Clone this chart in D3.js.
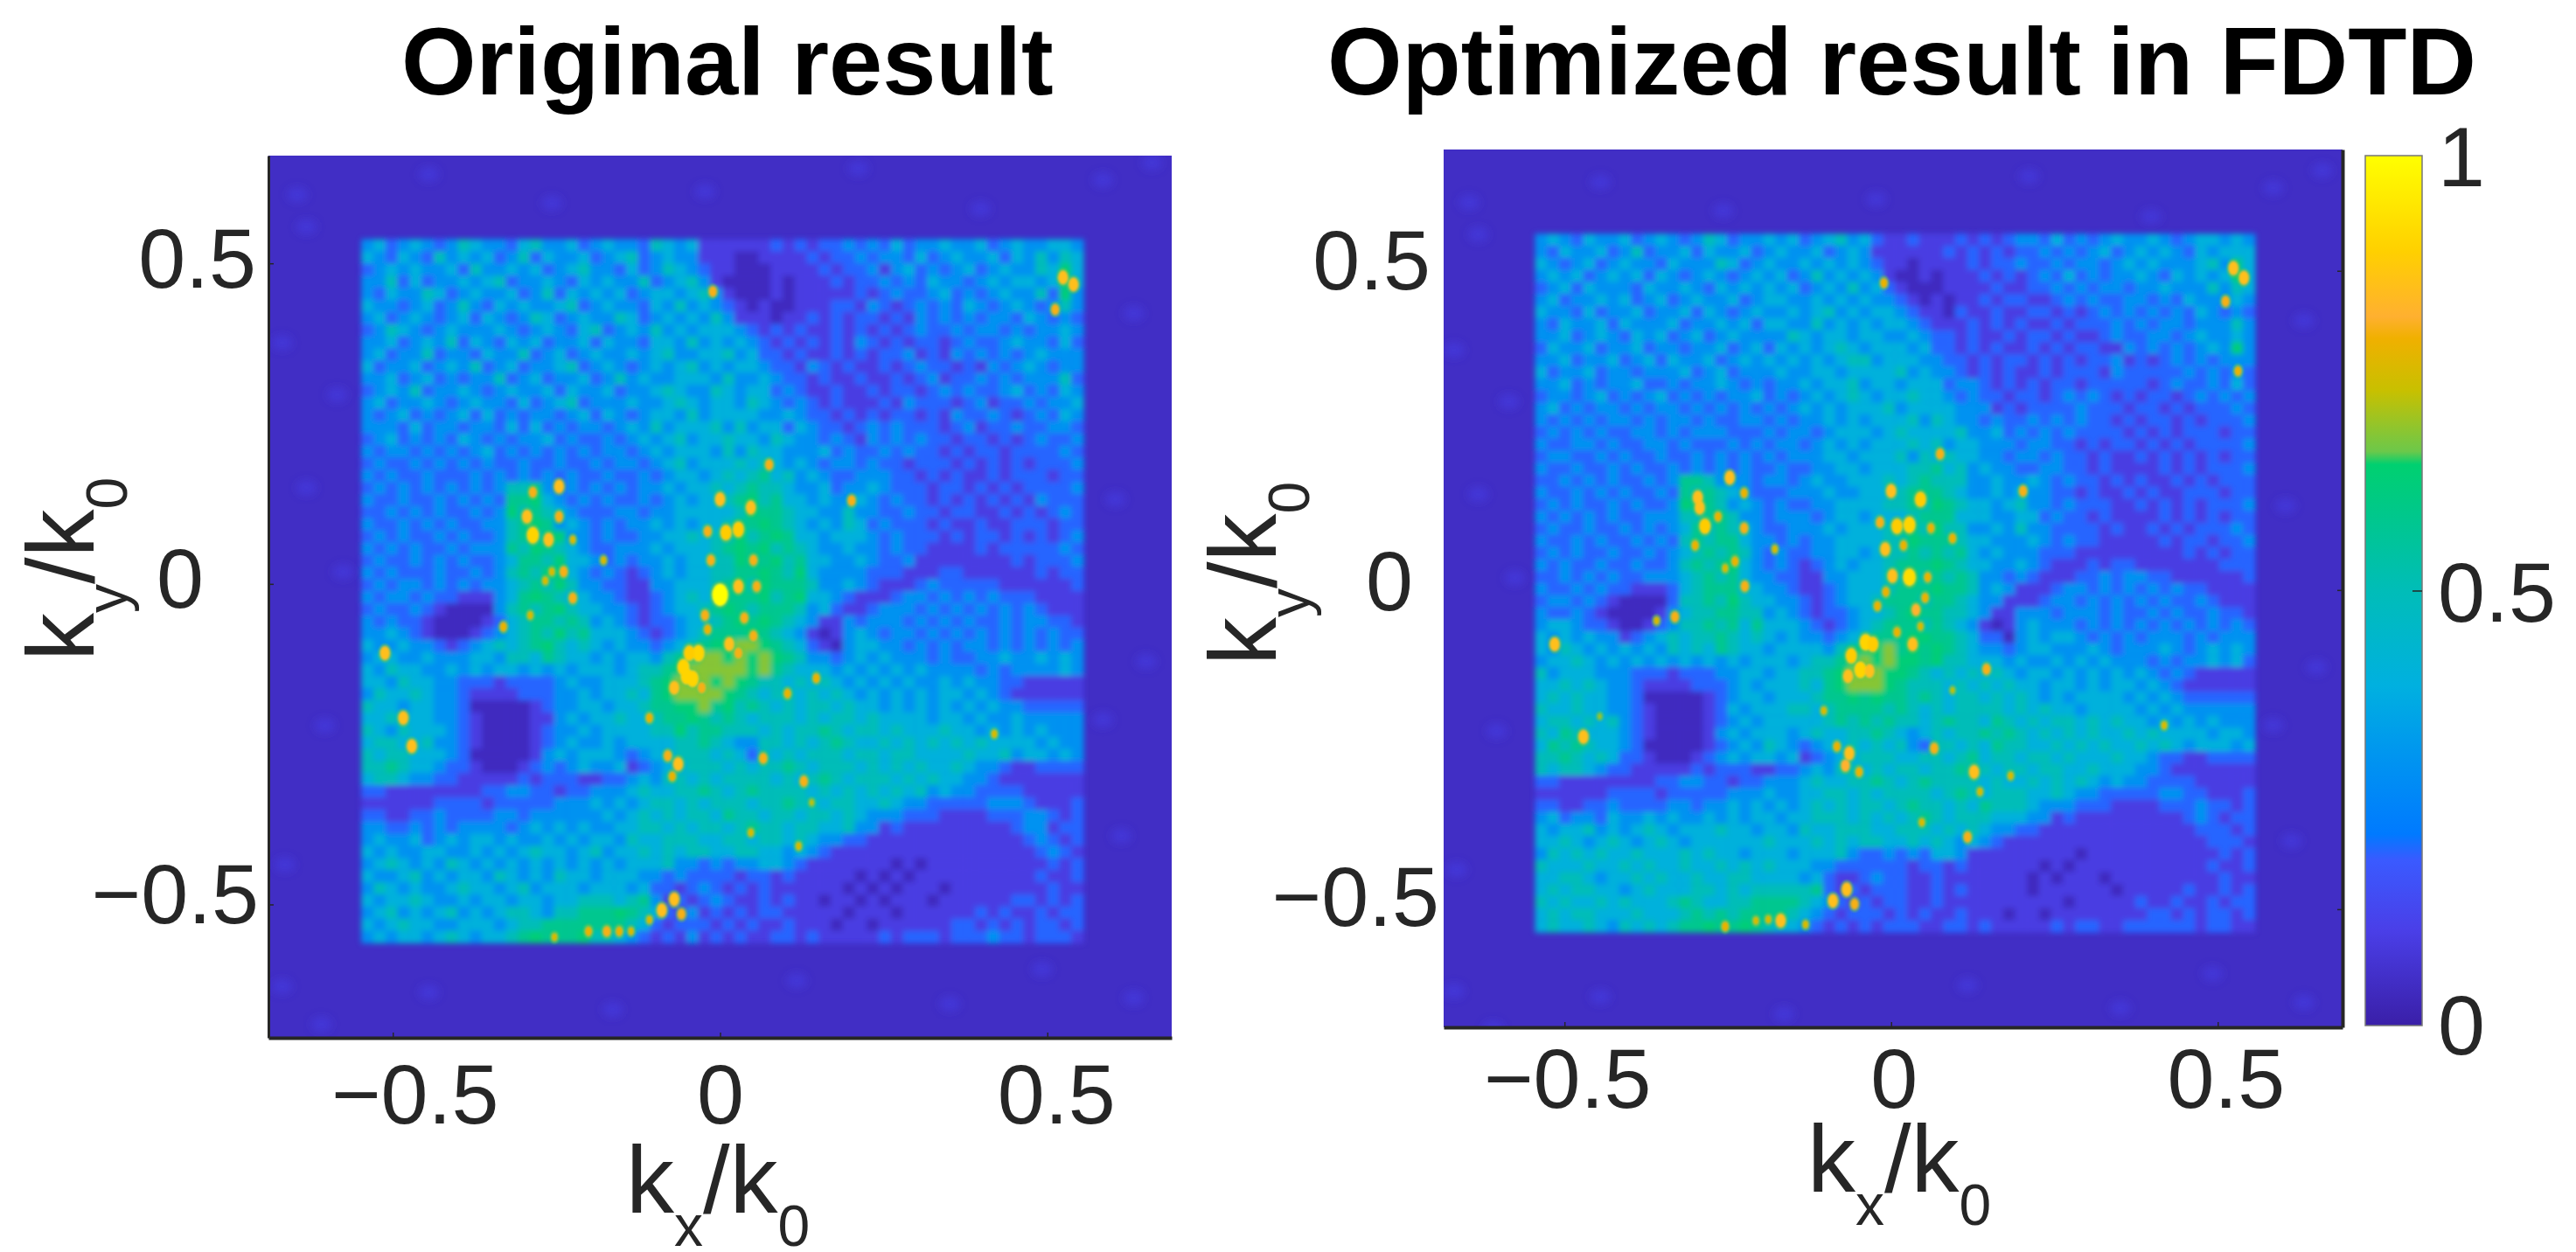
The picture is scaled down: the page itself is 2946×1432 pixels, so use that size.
<!DOCTYPE html>
<html>
<head>
<meta charset="utf-8">
<script src="https://cdnjs.cloudflare.com/ajax/libs/d3/7.8.5/d3.min.js"></script>
<style>
  body { margin: 0; background: #fff; }
  text { font-family: "Liberation Sans", Arial, sans-serif; fill: #262626; }
</style>
</head>
<body>
<script>
// color bar stops
const colorStops = [0, 0.11, 0.19, 0.22, 0.32, 0.39, 0.5, 0.59, 0.645, 0.66, 0.73, 0.79, 0.815, 0.89, 1];
const colorValues = ["#3a1fa8", "#4a3fe8", "#3a5aff", "#007aff", "#0098ee", "#00b0e0", "#00bdb8", "#00c88a",
  "#00d070", "#6cc84a", "#c8c000", "#f0b000", "#ffb030", "#ffd000", "#ffff00"];

const xTicks = [-0.5, 0, 0.5];
const yTicks = [0.5, 0, -0.5];
const barTicks = [1, 0.5, 0];
const frameValue = 0.05;

// value of each digit used in the rows below
const digitValues = [0.04, 0.1, 0.2, 0.3, 0.4, 0.5, 0.58, 0.63, 0.68];

// inner square, one digit per cell
const leftRows = [
  "3423432354 3324533423 4332543411 1111212122 3232423343 3423433443",
  "4324325343 4235243342 3452343311 1001111212 2323324234 3342435354",
  "2343433425 3343423453 3242354321 1000111121 2231342323 4234335474",
  "3352423343 4523343243 4335234531 0000101112 1223232433 2343443464",
  "3243354234 3342352434 3423443453 1000101111 1212322342 3234335273",
  "4332342353 2434334523 4332435343 2101001112 2132123232 4323432353",
  "3423432342 4323542343 3542343435 3111011212 1221213232 3233243232",
  "2354323433 3432343245 2343534344 4321212112 1212123223 2332323343",
  "3342343524 3243423342 4332443534 3432121212 1321212212 3223433242",
  "3423352332 4335234234 3343453344 5342212112 1212231213 2323234333",
  "4233423435 2342334523 4323434534 3443221321 2112123221 2132343233",
  "3342342323 3523423342 3534334443 5334322121 1211212312 2323233352",
  "2343523343 2343342433 4233454335 4344232112 1121221232 3223423243",
  "3423343234 3324234523 3343345434 4354323212 1112132221 2312232334",
  "3234232342 4232332342 4323443534 4443343221 2121221213 2232123243",
  "3332423323 3242423233 2343534445 3534424322 1232322212 3122322332",
  "2342323243 2323342322 3234345344 5443543323 2132323221 2212123223",
  "3233232323 4232323232 3323434443 5354433342 3223232212 1221222232",
  "2322323232 3223223223 2332345344 4545434323 3232212221 2121212223",
  "3232232223 2323232322 3223234434 5456453432 2333221212 1121222122",
  "2323232323 2355632323 2323343445 4565543342 3343222122 1212122223",
  "3223223232 3266743232 3223234344 5675644343 3432322121 2121213222",
  "2232323223 2375654322 2332334444 4576654433 5332232212 2112121232",
  "3223232322 3356763432 3233434344 5667654343 5423222121 1211222122",
  "2323223232 2356567332 3223344545 5756764434 4432322212 1221212123",
  "3232322323 3365765432 2333434445 6767565433 4332322111 1212222232",
  "2322323232 2346657443 2323343445 5766756443 3432231111 1111212223",
  "3232223223 2356576432 3212343445 5667657433 3322211122 1111112122",
  "2323323232 3345657533 2211334445 6757666533 4321112322 2221111112",
  "3233232211 1346765443 3211234545 6667567443 2111233232 3232221111",
  "2322321000 0356567544 3321234456 7656665342 1123332323 2323232111",
  "3232210000 1245665653 4321223445 6767654311 3233323232 3223233221",
  "3343210001 2345657564 4432123456 6676543101 3432332323 2323232322",
  "4334332123 4545675454 3433234567 7887654210 3443323232 3323232323",
  "3443343334 4355465443 4344356788 7878765332 3434333232 2334334343",
  "4354433434 3443434344 4345567888 8878654443 4343434333 3232333343",
  "4435443322 2122223433 4445678887 8765545454 3434343343 4332211111",
  "3544543321 1112223343 4454678888 7654554545 4343434344 3432111111",
  "5443443320 0000123344 3445667786 7565454554 5443434343 4343322222",
  "4454443321 0000113434 4544566765 6545554545 5454444344 3433433333",
  "5435444321 0000123343 4444557566 5554545565 4554544454 4343434333",
  "4554453321 0000123433 4344445565 4335545456 5445454545 4544443433",
  "5455444320 0000134344 4323445554 5425454555 4554554444 5445344343",
  "5565443221 0001232343 3412344555 4545565455 5454545445 4332112222",
  "4554332211 1112122211 2234355454 5555454565 4555454544 3321111111",
  "2211111111 2233221223 3345445565 4565555454 5454545343 3222211111",
  "1111112222 1222223334 3434554545 5545565545 5445433222 2233321112",
  "2211223222 2332333333 4345454554 6554554554 5433322211 1122233212",
  "3322323233 3323434343 3445545455 4565545544 5331211111 1111233122",
  "3433423434 4343343434 4354455544 5545545433 2211111111 1111123212",
  "4343344334 3434544345 3445454554 4554434321 1111111111 1111112321",
  "3454343543 4343434343 4344453323 2334432111 1111010111 1111111212",
  "4334534344 3543435443 4443323222 2122121111 1010101111 1111112112",
  "3543433454 4345344434 4434221232 1212111111 0101011101 1111111211",
  "4344543343 4434434455 5456312123 2112121101 1010111011 1111221212",
  "3453434534 3455435566 6765421312 1212211111 0111011111 1212112122",
  "4345443344 4345566666 6654212221 2121121110 1101111112 2121212212",
  "3434434543 4456766675 5432121312 1211221211 1112122212 2232212221"
];

const rightRows = [
  "3432433423 4323542334 3423453421 1211121212 3324232343 3432344343",
  "3243342352 3342433423 4334234311 1111212121 2232323423 4343243444",
  "4323423433 2433354234 3343434321 1011112122 3223233234 3433345364",
  "3434234342 4323432343 4235343431 0010111212 1232423233 4324343474",
  "2342433324 3343243434 3423435342 1000111121 1223232332 3343335354",
  "3423343423 4234334234 4334343433 2101011212 2112323223 3232433343",
  "4332423342 3342432343 3434534344 3211021121 1221212323 2323243232",
  "3243342433 3423343424 4335343434 4321112121 2112122232 3233233353",
  "3342343243 4234234333 3543443443 3432212112 1221211232 2332343343",
  "2433423342 3323342342 4343454344 4342212121 1212122113 2323234373",
  "3342334234 2433423434 3434345534 4433221212 2121212231 2123232333",
  "4233423323 3342342333 4334434444 5343321212 1121222132 2222323232",
  "3342323342 2323343232 3343445344 3444233212 1212212222 2123223242",
  "2332342323 4232323342 3234345434 4544323221 2212323212 1221232323",
  "3423233232 3323232323 2343434445 3444433312 1222232221 2212122232",
  "3232323323 2332322332 3233434344 4535433232 2323232212 1221212223",
  "2323232233 2323332223 2332344434 5444453342 3232322221 2121222122",
  "3223323223 3232223232 3323434344 4545344333 2332212122 1212122223",
  "2332232322 3223232323 2333443444 5354544332 3323221211 2121212122",
  "3223223232 2323232322 3223344344 4556453433 2233221211 1121212223",
  "2232323223 2366533323 3234334445 4565553343 3432322121 2112121222",
  "3223232322 3265654322 2333433444 5666543343 4332212112 1211222122",
  "2323223232 2376653432 3223344445 5657654434 5332322211 2121212223",
  "3232323223 3355665332 3332344344 4566644433 4423221211 1121212122",
  "2322322323 2346565432 2333434445 6657553343 5332222121 1212122232",
  "3223232232 3256566433 2323344445 5766654433 3432322111 1121221223",
  "2323223223 2345656532 3223344345 5656564343 3322211111 1111212122",
  "3232232232 2356567432 3212343445 6667654433 4321112122 1111111222",
  "2232323223 3345656433 2211334445 5756565332 3211122323 3221111112",
  "3223232211 1245666443 3211234445 6667665343 1112332323 2323221111",
  "2332321000 0255657544 3321234456 6656654331 1123323232 3232232111",
  "3223210000 1345566553 4321223445 6766554311 3332333232 2323223221",
  "3443221001 2355656464 4432123456 6656543101 3433323232 3232323232",
  "4343433123 4545565454 3433234566 6776654220 3434432323 2333232333",
  "4354343434 3545465443 4444356778 6767654332 3443334323 3343234343",
  "3445434343 4343434344 4345567878 7767554443 4334343433 3232334342",
  "5344433322 2122233443 4455678887 7654545454 3443434343 4323211111",
  "4454543321 1112223434 4454678887 6555454545 4434434344 3432111111",
  "4545443320 0000123443 4445667676 6565455454 5434344443 4343222222",
  "5445443321 0000124344 4554566665 6545455554 5454434444 3434333333",
  "4554545321 0000123434 4444565656 5545655465 4545545454 4343434333",
  "5465444321 0000134344 4345445565 4345455656 5454545445 4544443443",
  "4656544320 0000123435 4323445454 5325545465 5445454544 5454344434",
  "5565454221 0001234344 3412344555 4455456455 4554544454 4322112222",
  "5455432211 1112122211 2234355454 5545565545 5455445444 3321111111",
  "2211111111 2233221223 3345445565 4565555454 4545454343 3222211111",
  "1111112222 1222223334 3344554545 5554565455 5445433222 2233221112",
  "2211223222 2332334343 4345454554 5655454655 5433322211 1122232212",
  "3423324334 3433434344 3445554545 4565455544 4331211111 1111232122",
  "4344534345 4344454434 4354455544 5554545433 2211111111 1111122212",
  "4454345434 5434444445 4445454554 4545434321 1111111111 1111112221",
  "3545454454 4454544344 4344453223 2324431111 1111101111 1111111212",
  "5444544545 4454454545 4443322222 2122121111 1101011111 1111112112",
  "4455434454 5445445544 4434211232 2112111111 1010111011 1111111211",
  "4545544345 4445545455 5556212122 2112121111 1011111101 1111211212",
  "5454454544 4565445566 6654321212 2112111111 1111011111 2112112122",
  "4545544454 4456565666 6543212221 2121121110 1101111111 1221212212",
  "4544543545 4566766765 4432121212 2211221211 1112122112 2222212211"
];

// bright spots [kx, ky, value]
const leftSpots = [
  [.524,.478,.85],[.540,.467,.85],[.512,.428,.8],[-.011,.456,.8],[-.512,-.108,.85],[-.484,-.209,.85],[-.471,-.253,.85],
  [.075,.186,.8],[.201,.130,.8],
  [-.286,.143,.8],[-.246,.152,.85],[-.295,.105,.85],[-.286,.076,.9],[-.246,.105,.8],[-.262,.069,.85],[-.225,.069,.75],
  [-.225,-.022,.8],[-.257,.019,.75],[-.178,.037,.75],[-.267,.005,.75],[-.239,.019,.8],
  [0,.132,.85],[.047,.119,.85],[.009,.080,.88],[.028,.085,.88],[-.019,.082,.8],[-.014,.037,.8],[.051,.037,.8],
  [0,-.017,1],[.028,-.004,.85],[.056,-.004,.8],[-.023,-.049,.8],[.037,-.053,.8],[-.019,-.071,.78],[.051,-.081,.8],
  [.014,-.094,.85],[-.033,-.108,.9],[-.047,-.108,.88],[.028,-.108,.8],
  [-.056,-.130,.9],[-.042,-.148,.9],[-.070,-.162,.85],[-.051,-.144,.9],[-.028,-.162,.8],[-.108,-.209,.78],
  [-.331,-.067,.78],[-.290,-.049,.75],[-.080,-.268,.8],[-.064,-.281,.85],[-.073,-.300,.78],[.066,-.272,.8],
  [.128,-.308,.8],[.147,-.147,.78],[.103,-.171,.78],[.047,-.388,.75],[.120,-.409,.75],[.419,-.234,.75],[.140,-.341,.72],
  [-.070,-.492,.85],[-.089,-.509,.85],[-.059,-.515,.8],[-.201,-.542,.78],[-.173,-.542,.8],[-.154,-.542,.78],
  [-.136,-.542,.75],[-.253,-.551,.75],[-.108,-.524,.75]
];

const rightSpots = [
  [.524,.504,.85],[.540,.489,.85],[.512,.452,.8],[-.011,.481,.78],[-.515,-.085,.85],[-.471,-.230,.85],[-.446,-.198,.7],
  [.075,.213,.8],[.202,.155,.8],
  [-.296,.145,.85],[-.247,.176,.85],[-.293,.129,.85],[-.285,.100,.88],[-.225,.152,.78],[-.265,.115,.78],[-.225,.097,.8],
  [-.300,.070,.78],[-.224,.006,.8],[-.254,.034,.75],[-.178,.064,.75],[-.239,.045,.78],
  [0,.155,.85],[.045,.142,.88],[.009,.100,.88],[.028,.102,.9],[-.017,.106,.8],[-.009,.064,.85],[.019,.070,.78],
  [.094,.081,.78],[.061,.097,.78],[.002,.022,.85],[.028,.020,.92],[.056,.020,.78],[-.008,-.003,.78],[-.021,-.025,.78],
  [.038,-.031,.82],[.052,-.012,.78],[.009,-.066,.78],[.033,-.085,.85],[.045,-.057,.75],
  [-.039,-.082,.9],[-.028,-.085,.88],[-.061,-.103,.88],[-.047,-.125,.9],[-.066,-.135,.85],[-.033,-.127,.85],
  [-.331,-.042,.8],[-.359,-.048,.75],[-.103,-.189,.75],[-.083,-.245,.78],[-.064,-.256,.85],[-.070,-.275,.82],
  [-.049,-.285,.78],[.066,-.248,.8],[.127,-.285,.85],[.183,-.291,.75],[.146,-.124,.8],[.094,-.157,.72],
  [.047,-.364,.75],[.117,-.387,.8],[.418,-.212,.75],[.531,.343,.78],[.136,-.316,.75],
  [-.068,-.469,.85],[-.089,-.487,.85],[-.056,-.492,.8],[-.169,-.518,.85],[-.207,-.518,.75],[-.188,-.516,.75],
  [-.254,-.527,.78],[-.131,-.524,.75]
];

// faint blotches in the dark frame [kx, ky]
const frameSpecks = [
  [-.646,.607],[-.576,.019],[-.669,-.628],[.585,.630],[.660,.657],[-.609,-.687],[-.669,.376],[-.632,.150],
  [-.604,-.221],[-.665,-.438],[-.445,.639],[-.257,.594],[-.023,.612],[.211,.648],[.398,.585],[.632,.422],
  [.604,.132],[.651,-.121],[.613,-.393],[.632,-.646],[-.445,-.637],[-.164,-.664],[.117,-.619],[.351,-.655],
  [.492,-.601],[-.632,.557],[-.585,.295],[.585,-.212]
];

const color = d3.scaleLinear().domain(colorStops).range(colorValues).clamp(true);
const tickText = d => d3.format(".1f")(d).replace("-", "\u2212").replace(/^0\.0$/, "0");

const svg = d3.select("body").append("svg").attr("width", 2946).attr("height", 1432);
const defs = svg.append("defs");

const blur = (id, dev) => defs.append("filter").attr("id", id)
  .attr("filterUnits", "userSpaceOnUse").attr("x", 0).attr("y", 0).attr("width", 2946).attr("height", 1432)
  .append("feGaussianBlur").attr("stdDeviation", dev);
blur("soft", 3.2);
blur("spotSoft", 1.2);
blur("speckSoft", 5);

function drawPanel(p) {
  const x = d3.scaleLinear().domain(p.xDomain).range(p.xRange);
  const y = d3.scaleLinear().domain(p.yDomain).range(p.yRange);
  const cells = p.rows.map(r => r.replace(/ /g, "").split("").map(Number));
  const col = d3.scaleBand().domain(d3.range(d3.max(cells, r => r.length))).range([x(p.inner[0]), x(p.inner[1])]);
  const row = d3.scaleBand().domain(d3.range(cells.length)).range([y(p.inner[2]), y(p.inner[3])]);

  defs.append("clipPath").attr("id", p.id + "Clip").append("rect")
    .attr("x", p.xRange[0]).attr("y", p.yRange[0])
    .attr("width", p.xRange[1] - p.xRange[0]).attr("height", p.yRange[1] - p.yRange[0]);

  const g = svg.append("g").attr("clip-path", `url(#${p.id}Clip)`);
  g.append("rect")
    .attr("x", p.xRange[0]).attr("y", p.yRange[0])
    .attr("width", p.xRange[1] - p.xRange[0]).attr("height", p.yRange[1] - p.yRange[0])
    .attr("fill", color(frameValue));

  g.append("g").attr("filter", "url(#speckSoft)")
    .selectAll("ellipse").data(frameSpecks).join("ellipse")
    .attr("cx", d => x(d[0])).attr("cy", d => y(d[1])).attr("rx", 12).attr("ry", 9)
    .attr("fill", color(0.12)).attr("opacity", 0.45);

  const flat = cells.flatMap((r, j) => r.map((v, i) => ({ i, j, v })));
  g.append("g").attr("filter", "url(#soft)")
    .selectAll("rect").data(flat).join("rect")
    .attr("x", d => col(d.i)).attr("y", d => row(d.j))
    .attr("width", col.bandwidth() + 0.5).attr("height", row.bandwidth() + 0.5)
    .attr("fill", d => color(digitValues[d.v]));

  // spot size follows its value
  const spotR = d3.scaleLinear().domain([0.7, 1]).range([2, 9]);
  const spots = g.append("g").attr("filter", "url(#spotSoft)");
  spots.selectAll(".halo").data(p.spots).join("ellipse").attr("class", "halo")
    .attr("cx", d => x(d[0])).attr("cy", d => y(d[1]))
    .attr("rx", d => spotR(d[2]) + 2.5).attr("ry", d => spotR(d[2]) * 1.4 + 3)
    .attr("fill", color(0.66)).attr("opacity", 0.6);
  spots.selectAll(".spot").data(p.spots).join("ellipse").attr("class", "spot")
    .attr("cx", d => x(d[0])).attr("cy", d => y(d[1]))
    .attr("rx", d => spotR(d[2])).attr("ry", d => spotR(d[2]) * 1.4)
    .attr("fill", d => color(d[2]));

  // axes
  const xAxis = svg.append("g").attr("transform", `translate(0,${p.yRange[1]})`)
    .call(d3.axisBottom(x).tickValues(xTicks).tickSizeInner(-6).tickSizeOuter(0).tickFormat(tickText));
  xAxis.select(".domain").attr("stroke", "#262626").attr("stroke-width", 4);
  xAxis.selectAll("line").attr("stroke", "#262626").attr("stroke-width", 1.5);
  xAxis.selectAll("text").attr("font-size", p.tickFont)
    .attr("dy", 0).attr("y", p.xLabelBase - p.yRange[1])
    .attr("dx", (d, i) => p.xLabelShift[i]);

  const yAxisSide = p.axisRight ? d3.axisRight(y) : d3.axisLeft(y);
  const yAxis = svg.append("g").attr("transform", `translate(${p.axisRight ? p.xRange[1] : p.xRange[0]},0)`)
    .call(yAxisSide.tickValues(yTicks).tickSizeInner(-6).tickSizeOuter(0).tickFormat(""));
  yAxis.select(".domain").attr("stroke", "#262626").attr("stroke-width", p.axisRight ? 4 : 3);
  yAxis.selectAll("line").attr("stroke", "#262626").attr("stroke-width", 1.5);

  svg.append("g").selectAll("text").data(yTicks).join("text")
    .attr("font-size", p.tickFont).attr("text-anchor", "end")
    .attr("x", (d, i) => p.yLabelRight[i]).attr("y", (d, i) => p.yLabelBase[i])
    .text(tickText);

  // axis titles
  const xt = svg.append("text").attr("font-size", 110).attr("x", p.xTitle[0]).attr("y", p.xTitle[1]);
  xt.append("tspan").text("k");
  xt.append("tspan").text("x").attr("font-size", 66).attr("dy", 38);
  xt.append("tspan").text("/k").attr("dy", -38);
  xt.append("tspan").text("0").attr("font-size", 66).attr("dy", 38);

  const yt = svg.append("text").attr("font-size", 110)
    .attr("transform", `translate(${p.yTitle[0]},${p.yTitle[1]}) rotate(-90)`);
  yt.append("tspan").text("k");
  yt.append("tspan").text("y").attr("font-size", 66).attr("dy", 38);
  yt.append("tspan").text("/k").attr("dy", -38);
  yt.append("tspan").text("0").attr("font-size", 66).attr("dy", 38);

  svg.append("text").attr("font-size", 110).attr("font-weight", "bold").style("fill", "#000")
    .attr("x", p.titleX).attr("y", 108).text(p.title);
}

drawPanel({
  id: "left", title: "Original result", titleX: 459, rows: leftRows, spots: leftSpots,
  xDomain: [-0.69, 0.69], xRange: [307, 1340], yDomain: [0.668, -0.708], yRange: [178, 1187],
  inner: [-0.548, 0.555, 0.5376, -0.56], axisRight: false, tickFont: 97,
  xLabelBase: 1285, xLabelShift: [25, 0, 10],
  yLabelRight: [293, 233, 296], yLabelBase: [329, 695, 1056],
  xTitle: [716, 1387], yTitle: [107, 756]
});

drawPanel({
  id: "right", title: "Optimized result in FDTD", titleX: 1518, rows: rightRows, spots: rightSpots,
  xDomain: [-0.685, 0.691], xRange: [1651, 2679], yDomain: [0.69, -0.685], yRange: [171, 1175],
  inner: [-0.545, 0.557, 0.558, -0.536], axisRight: true, tickFont: 97,
  xLabelBase: 1267, xLabelShift: [3, 3, 9],
  yLabelRight: [1636, 1616, 1646], yLabelBase: [331, 698, 1059],
  xTitle: [2067, 1363], yTitle: [1459, 761]
});

// colour bar
const barScale = d3.scaleLinear().domain([0, 1]).range([1173, 178]);
const grad = defs.append("linearGradient").attr("id", "barGrad").attr("x1", 0).attr("x2", 0).attr("y1", 1).attr("y2", 0);
grad.selectAll("stop").data(colorStops).join("stop")
  .attr("offset", d => d).attr("stop-color", d => color(d));
svg.append("rect").attr("x", 2705).attr("width", 65)
  .attr("y", barScale(1)).attr("height", barScale(0) - barScale(1))
  .attr("fill", "url(#barGrad)").attr("stroke", "#777").attr("stroke-width", 1.5);
const barAxis = svg.append("g").attr("transform", "translate(2770,0)")
  .call(d3.axisRight(barScale).tickValues([0.5]).tickSizeInner(-11).tickSizeOuter(0).tickFormat(""));
barAxis.select(".domain").remove();
barAxis.selectAll("line").attr("stroke", "#262626").attr("stroke-width", 1.5);
const barBase = [213, 711, 1206];
svg.append("g").selectAll("text").data(barTicks).join("text")
  .attr("font-size", 97).attr("x", 2788).attr("y", (d, i) => barBase[i]).text(d => d);
</script>
</body>
</html>
